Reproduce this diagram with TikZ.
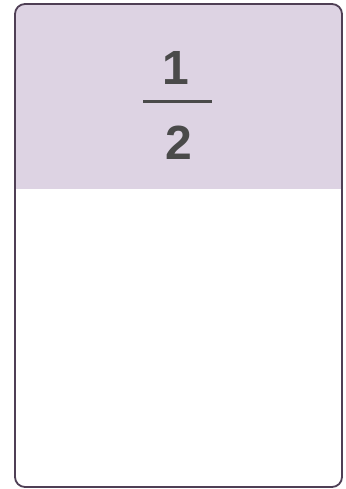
\documentclass[tikz,border=0pt]{standalone}
\usepackage{fontspec}
\setmainfont{Liberation Sans}
\usetikzlibrary{calc}

\definecolor{cardtop}{HTML}{DDD3E3}
\definecolor{cardline}{HTML}{4F3F55}
\definecolor{digitgray}{HTML}{4A4A4A}

\begin{document}
\begin{tikzpicture}[x=1pt,y=-1pt,line join=round,line cap=round,
  numtext/.style={text=digitgray,inner sep=0pt,font=\fontsize{48}{48}\selectfont\bfseries}]
  \useasboundingbox (0,0) rectangle (345,489);

  % card with coloured top
  \begin{scope}
    \clip[rounded corners=10pt] (15,4) rectangle (342,487);
    \fill[cardtop] (15,4) rectangle (342,189);
  \end{scope}
  \draw[cardline, line width=1.8pt, rounded corners=10pt] (15,4) rectangle (342,487);

  % fraction 1/2
  \node[numtext, anchor=base] (num) at (176,85) {1};
  \node[numtext, anchor=base] (den) at (179,160) {2};
  \coordinate (barL) at (143,102);
  \coordinate (barR) at (212,102);
  \draw[digitgray, line width=3pt, line cap=butt] (barL) -- (barR);
\end{tikzpicture}
\end{document}
